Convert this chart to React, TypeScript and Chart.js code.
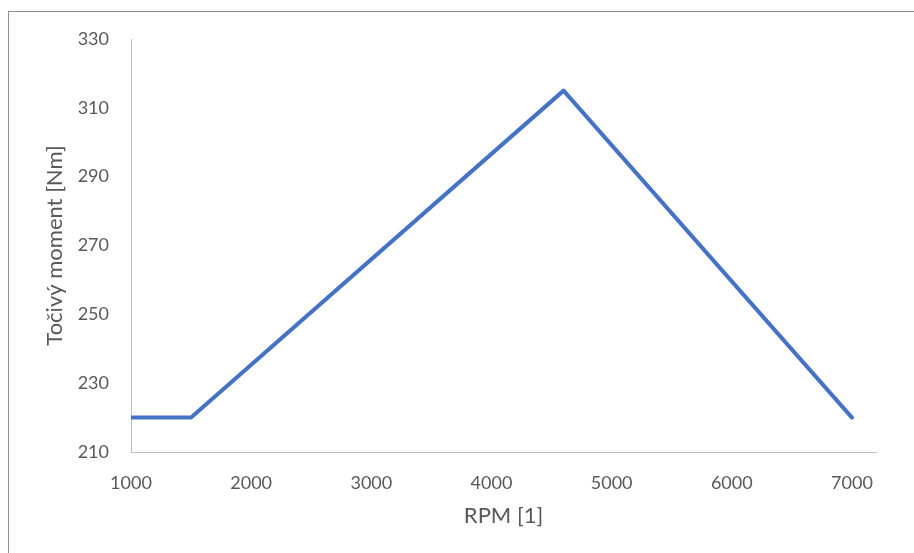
import React, { useEffect, useRef } from "react";
import { Chart, registerables } from "chart.js";

Chart.register(...registerables);

const rpm = [1000, 1500, 4600, 7000];
const torque = [220, 220, 315, 220];
const xTicks = [1000, 2000, 3000, 4000, 5000, 6000, 7000];
const xTitle = "RPM [1]";
const yTitle = "Točivý moment [Nm]";

export default function App() {
  const ref = useRef<HTMLCanvasElement | null>(null);
  useEffect(() => {
    if (!ref.current) return;
    const family = "Lato, 'Open Sans', sans-serif";
    const tickFont = { family, size: 18 };
    const titleFont = { family, size: 22 };
    const chart = new Chart(ref.current, {
      type: "line",
      data: {
        datasets: [
          {
            data: rpm.map((x, i) => ({ x, y: torque[i] })),
            borderColor: "#4472C4",
            borderWidth: 4,
            pointRadius: 0,
            borderCapStyle: "round",
            borderJoinStyle: "round",
            fill: false,
            tension: 0,
          },
        ],
      },
      options: {
        animation: false,
        responsive: false,
        layout: { padding: { left: 40, top: 39, right: 38, bottom: 0 } },
        plugins: { legend: { display: false }, tooltip: { enabled: false } },
        scales: {
          x: {
            type: "linear",
            min: 1000,
            max: 7200,
            afterBuildTicks: (s: any) => {
              s.ticks = xTicks.map((v) => ({ value: v }));
            },
            afterFit: (s: any) => {
              s.height = 101;
            },
            ticks: {
              color: "#595959",
              font: tickFont,
              padding: 20,
              maxRotation: 0,
              autoSkip: false,
              callback: (v: any) => String(v),
            },
            grid: { display: false, drawTicks: false },
            border: { color: "#BFBFBF", width: 1 },
            title: { display: true, text: xTitle, color: "#595959", font: titleFont, padding: { top: 0, bottom: 24 } },
          },
          y: {
            min: 210,
            max: 330,
            afterFit: (s: any) => {
              s.width = 91;
            },
            ticks: { stepSize: 20, color: "#595959", font: tickFont, padding: 22, callback: (v: any) => String(v) },
            grid: { display: false, drawTicks: false },
            border: { color: "#BFBFBF", width: 1 },
            title: { display: true, text: yTitle, color: "#595959", font: titleFont, padding: { top: 2, bottom: 0 } },
          },
        },
      },
    });
    return () => chart.destroy();
  }, []);
  return (
    <div style={{ position: "fixed", left: 0, top: 0, width: 914, height: 553, background: "#fff", overflow: "hidden" }}>
      <div
        style={{
          position: "absolute",
          left: 8,
          top: 11,
          width: 920,
          height: 560,
          borderTop: "1px solid #8C8C8C",
          borderLeft: "1px solid #8C8C8C",
        }}
      />
      <canvas ref={ref} width={914} height={553} style={{ position: "absolute", left: 0, top: 0 }} />
    </div>
  );
}
